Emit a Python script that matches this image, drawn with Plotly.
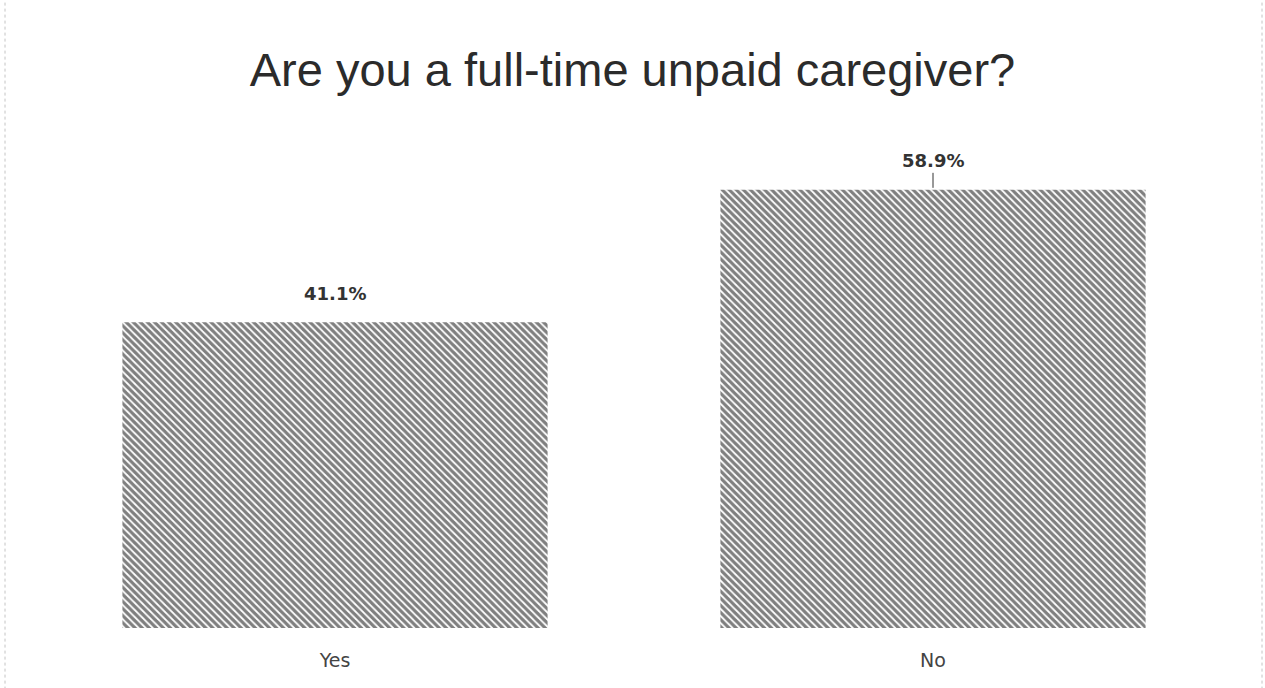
import plotly.graph_objects as go

# Survey answers and their shares (%)
categories = ["Yes", "No"]
shares = [41.1, 58.9]
share_labels = ["41.1%", "58.9%"]

title_text = "Are you a full-time unpaid caregiver?"

W, H = 1265, 688
L, R, T, B = 36, 33, 140, 60

fig = go.Figure()

fig.add_trace(go.Bar(
    x=categories,
    y=shares,
    marker=dict(
        color="white",
        line=dict(width=0),
        pattern=dict(shape="\\", fgcolor="#000000", bgcolor="white",
                     size=5, solidity=0.65),
    ),
    hoverinfo="skip",
    showlegend=False,
))

# Value labels above each bar, with a short leader line on the taller one
for cat, val, lab in zip(categories, shares, share_labels):
    fig.add_annotation(
        x=cat, y=val, text="<b>" + lab + "</b>",
        showarrow=True, arrowhead=0, arrowwidth=1,
        arrowcolor="#333333" if val == max(shares) else "rgba(0,0,0,0)",
        ax=0, ay=-29, standoff=2, startstandoff=0,
        font=dict(family="DejaVu Sans", size=18, color="#333333"),
    )

# Faint dotted frame lines near the page edges
plot_w = W - L - R
for px in (5, 1262):
    xp = (px - L) / plot_w
    fig.add_shape(type="line", xref="paper", yref="paper",
                  x0=xp, x1=xp, y0=-0.2, y1=1.4,
                  line=dict(color="#c4c4c4", width=1, dash="dot"))

fig.update_layout(
    width=W, height=H,
    margin=dict(l=L, r=R, t=T, b=B),
    paper_bgcolor="white", plot_bgcolor="white",
    bargap=0.289,
    title=dict(text=title_text, x=0.5, xanchor="center",
               y=1 - 70 / H, yanchor="middle",
               font=dict(family="Liberation Sans", size=47, color="#2b2b2b")),
    xaxis=dict(showgrid=False, zeroline=False, showline=False, ticks="",
               ticklabelstandoff=19,
               tickfont=dict(family="DejaVu Sans", size=19, color="#444444")),
    yaxis=dict(range=[0, 65.6], visible=False, showgrid=False, zeroline=False),
)

fig.write_html("out.html")
